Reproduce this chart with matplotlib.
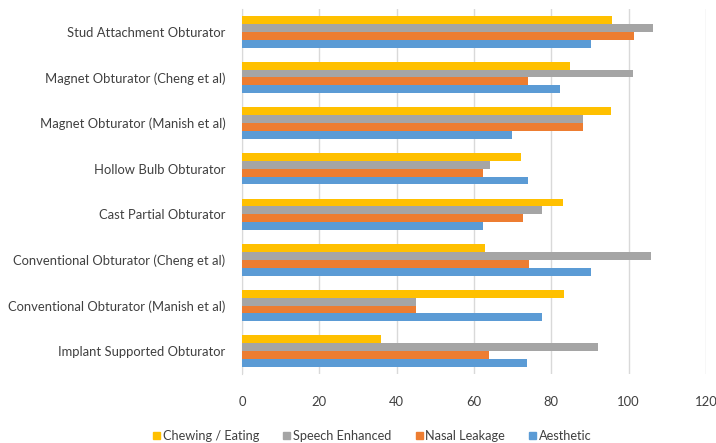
import matplotlib
matplotlib.use("Agg")
import matplotlib.pyplot as plt
import numpy as np
from matplotlib.patches import Patch

categories = [
    "Stud Attachment Obturator",
    "Magnet Obturator (Cheng et al)",
    "Magnet Obturator (Manish et al)",
    "Hollow Bulb Obturator",
    "Cast Partial Obturator",
    "Conventional Obturator (Cheng et al)",
    "Conventional Obturator (Manish et al)",
    "Implant Supported Obturator",
]
series_names = ["Chewing / Eating", "Speech Enhanced", "Nasal Leakage", "Aesthetic"]
chewing = [95.8, 84.9, 95.5, 72.2, 82.9, 62.9, 83.4, 36.0]
speech = [106.4, 101.0, 88.2, 64.1, 77.7, 105.8, 45.1, 92.1]
nasal = [101.4, 74.0, 88.2, 62.2, 72.7, 74.3, 45.1, 63.8]
aesthetic = [90.2, 82.2, 69.9, 74.0, 62.2, 90.2, 77.7, 73.8]
xticks = [0, 20, 40, 60, 80, 100, 120]

colors = ["#FFC000", "#A5A5A5", "#ED7D31", "#5B9BD5"]
plt.rcParams['font.family'] = ['Lato', 'DejaVu Sans']

fig = plt.figure(figsize=(7.16, 4.43), dpi=100)
ax = fig.add_axes([242/716, 1-374/443, (706-242)/716, (374-9)/443])

n = len(categories)
y = np.arange(n)
bh = 0.172
data = [chewing, speech, nasal, aesthetic]
for i, (vals, c, name) in enumerate(zip(data, colors, series_names)):
    off = (i - 1.5) * bh
    ax.barh(y + off, vals, height=bh, color=c, label=name, zorder=3)

ax.set_ylim(n - 0.5, -0.5)
ax.set_xlim(0, 120)
ax.set_xticks(xticks)
ax.set_xticklabels([str(t) for t in xticks])
ax.set_yticks(y)
ax.set_yticklabels(categories)
ax.grid(axis='x', color='#D9D9D9', linewidth=1, zorder=0)
for s in ['top', 'right', 'bottom']:
    ax.spines[s].set_visible(False)
ax.spines['left'].set_color('#D9D9D9')
ax.tick_params(axis='both', length=0, labelsize=9.4, labelcolor='#404040')
ax.tick_params(axis='y', pad=12)
ax.tick_params(axis='x', pad=16)

handles = [Patch(color=c) for c in colors]
fig.legend(handles, series_names, loc='center', bbox_to_anchor=(0.52, 1-436/443),
           ncol=4, frameon=False, fontsize=9.2, handlelength=0.55, handleheight=0.55,
           handletextpad=0.2, columnspacing=1.9, labelcolor='#404040')

fig.savefig("out.png", dpi=100)
